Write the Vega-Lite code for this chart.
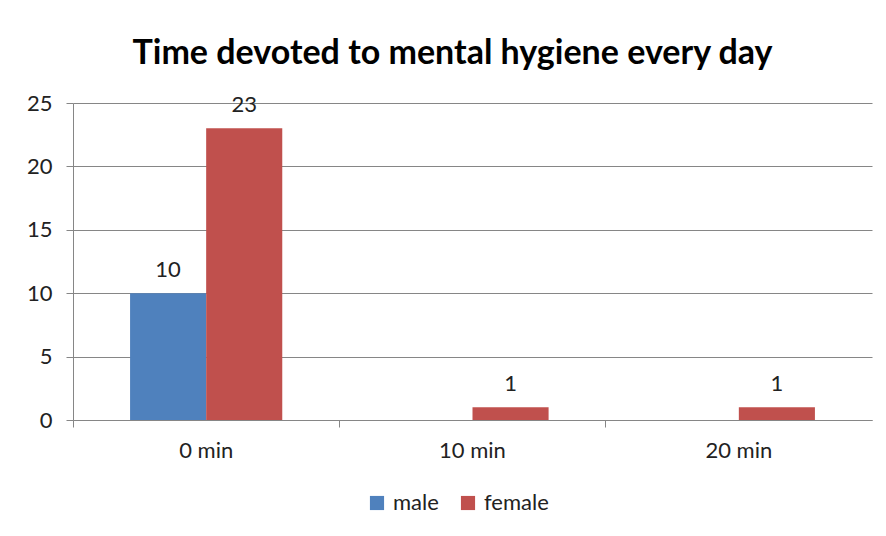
{
  "$schema": "https://vega.github.io/schema/vega-lite/v6.json",
  "autosize": "none",
  "width": 799,
  "height": 317,
  "padding": {"left": 73, "top": 103, "right": 14, "bottom": 116},
  "background": "white",
  "title": {
    "text": "Time devoted to mental hygiene every day",
    "font": "Lato",
    "fontSize": 34,
    "fontWeight": "bold",
    "color": "#000000",
    "anchor": "middle",
    "dx": -20,
    "offset": 21
  },
  "config": {
    "view": {"stroke": null},
    "font": "Lato"
  },
  "data": {
    "values": [
      {"time": "0 min", "sex": "male", "count": 10},
      {"time": "0 min", "sex": "female", "count": 23},
      {"time": "10 min", "sex": "male", "count": 0},
      {"time": "10 min", "sex": "female", "count": 1},
      {"time": "20 min", "sex": "male", "count": 0},
      {"time": "20 min", "sex": "female", "count": 1}
    ]
  },
  "encoding": {
    "x": {
      "field": "time",
      "type": "nominal",
      "sort": ["0 min", "10 min", "20 min"],
      "scale": {"paddingInner": 0, "paddingOuter": 0},
      "axis": {
        "title": null,
        "labelAngle": 0,
        "labelFont": "Lato",
        "labelFontSize": 22,
        "labelColor": "#222222",
        "labelPadding": 13,
        "domainColor": "#868686",
        "tickColor": "#868686",
        "tickSize": 7,
        "bandPosition": 0,
        "grid": false
      }
    },
    "xOffset": {
      "field": "sex",
      "type": "nominal",
      "sort": ["male", "female"],
      "scale": {"paddingInner": 0, "paddingOuter": 0.75}
    },
    "y": {
      "field": "count",
      "type": "quantitative",
      "scale": {"domain": [0, 25]},
      "axis": {
        "title": null,
        "values": [0, 5, 10, 15, 20, 25],
        "labelFont": "Lato",
        "labelFontSize": 22,
        "labelColor": "#222222",
        "labelPadding": 14,
        "domainColor": "#868686",
        "tickColor": "#868686",
        "tickSize": 7,
        "gridColor": "#868686",
        "gridWidth": 1
      }
    }
  },
  "layer": [
    {
      "mark": {"type": "bar"},
      "encoding": {
        "color": {
          "field": "sex",
          "type": "nominal",
          "sort": ["male", "female"],
          "scale": {"domain": ["male", "female"], "range": ["#4F81BD", "#C0504D"]},
          "legend": {
            "title": null,
            "orient": "none",
            "direction": "horizontal",
            "legendX": 293,
            "legendY": 389,
            "symbolType": "square",
            "symbolSize": 200,
            "symbolStrokeWidth": 0,
            "labelFont": "Lato",
            "labelFontSize": 22,
            "labelColor": "#222222",
            "labelOffset": 5,
            "columnPadding": 18
          }
        }
      }
    },
    {
      "transform": [{"filter": "datum.count > 0"}],
      "mark": {"type": "text", "baseline": "bottom", "dy": -11, "fontSize": 22, "font": "Lato", "color": "#222222"},
      "encoding": {
        "text": {"field": "count", "type": "quantitative"}
      }
    }
  ]
}
